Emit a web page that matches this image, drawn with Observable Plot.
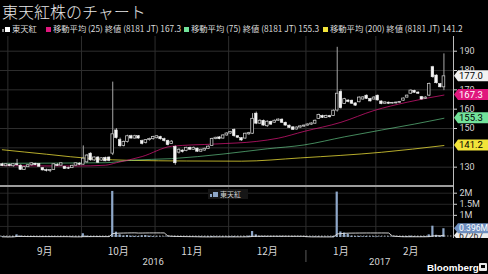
<!DOCTYPE html>
<html><head><meta charset="utf-8">
<script src="https://cdn.jsdelivr.net/npm/d3@7"></script>
<script src="https://cdn.jsdelivr.net/npm/@observablehq/plot@0.6"></script>
<style>
html,body{margin:0;padding:0;background:#000;}
#root{position:relative;width:488px;height:274px;overflow:hidden;background:#000;font-family:Roboto,"Noto Sans",sans-serif;color:#ccc;}
.abs{position:absolute;}
#title{left:2px;top:0px;font-family:"Noto Sans CJK JP";font-weight:300;font-size:16px;color:#e6e6e6;line-height:22px;white-space:nowrap;}
.leg{top:23px;font-family:"Noto Sans CJK JP";font-size:8.3px;line-height:10px;color:#dadada;white-space:nowrap;}
.sw{display:inline-block;width:5px;height:5px;margin-right:2px;vertical-align:0px;}
#sep{left:0;top:185px;width:453px;height:1.5px;background:#9c9c9c;z-index:5;}
#vleg{left:208px;top:189px;width:40px;height:10px;background:#161616;font-family:"Noto Sans CJK JP";font-size:7px;line-height:10px;color:#cfcfcf;white-space:nowrap;z-index:4;}
#logo{left:427px;top:262px;font-family:"Liberation Sans",Arial,sans-serif;font-weight:700;font-size:9.8px;color:#fff;line-height:12px;white-space:nowrap;}
#icon{left:479px;top:263px;width:8px;height:8px;background:#e8e8e8;border-radius:1px;}
#icon::after{content:"";position:absolute;left:2px;top:2px;width:4px;height:3px;background:#000;}
</style></head><body><div id="root">
<div id="title" class="abs">東天紅株のチャート</div>
<div id="p1" class="abs" style="left:0;top:36px;"></div>
<div id="p2" class="abs" style="left:0;top:186px;height:52px;overflow:hidden;"></div>
<div id="p3" class="abs" style="left:0;top:238px;"></div>
<div id="sep" class="abs"></div>
<div id="logo" class="abs">Bloomberg</div>
<div id="icon" class="abs"></div>
</div>
<script>
// ---- data ----
const tradeStart = "2016-08-30", tradeEnd = "2017-02-27";
const holidays = ["2016-09-19","2016-09-22","2016-10-10","2016-11-03","2016-11-23","2016-12-23","2017-01-02","2017-01-03","2017-01-09"];
const open = [
131.5,130.5,131.3,130.5,131.5,130.8,128.6,130,131,131.8,
131.6,129.5,128.5,128,128.5,131.2,130.8,130.2,129.5,129.5,
130.8,131.8,131.3,132.5,137,133.5,135,133.4,134.8,135,
137,149,144,141,143,146,144.8,146,143.5,142.5,
144,144.5,145,145.6,144.5,143.6,142,140.5,137.5,138.6,
138.4,140,139,139.6,138,138.6,139.5,141,144.6,145.4,
144.8,146.4,147.4,149.3,146,145,144.8,147,147.3,157.7,
152.5,154,151.2,153.5,153,154,154.6,153,151.5,150.6,
149.5,150.5,151,151.5,152,152.5,155,156.5,155.5,156.4,
156.5,159.3,169,162.7,164.5,164.4,163,163.6,165,167,
165.3,165,167,164,162.8,163.4,162.9,163,163.3,164.4,
166,168,169.5,168.6,166.3,165.4,167,181.7,177.4,173,
171.3];
const high = [
132,131.8,131.6,131.8,134,131.2,130.2,131.3,132.3,132,
131.9,129.8,129,128.8,131.8,131.8,132.3,130.5,130,131,
132.2,132.3,141,136.5,137.5,135.3,135.5,134.8,135.2,135.3,
174,150,145,143.5,146.5,146.5,146.5,146.3,144,144.3,
145,146,146.2,146,145,144,143.7,141,139.5,139,
140.3,140.4,140.4,139.9,139.3,139.8,141,145,145.5,145.8,
146.8,147.8,148.5,149.8,146.3,145.3,147.6,148,157.7,158.5,
154.5,154.4,154,153.8,154.4,155,155,153.3,151.8,151,
150.8,151.4,151.8,152.4,152.9,154.4,157.4,156.9,156.9,156.8,
159.6,192,170,165.6,164.8,164.7,163.3,166.4,166.5,167.4,
165.6,166.5,167.3,164.3,163.8,163.7,163.5,163.7,164,165.8,
167.3,170,169.8,169,166.6,166.4,173.5,182.2,177.8,173.3,
188.6];
const low = [
130.3,130.2,130.2,130,130.5,128.3,128.3,129.8,130.5,130.8,
130,128,127.5,127.2,128.3,130.4,130.6,128.8,128.8,129.3,
130.5,130.8,131,132,133,133,132,133,132.8,132.8,
136,144.5,140.3,140.5,142.5,144.5,144.5,144.5,141.5,142,
143.5,144,144.6,144,143,141,141.8,131,136.8,137.3,
138,138.6,138.7,137.6,137.7,138.3,139.2,140.8,144.2,144.2,
144.5,146,147,145.5,144.8,143.4,144.5,146.5,147,152,
152.2,151.2,150.6,151.6,152.7,153.7,152.6,151.2,150,149,
149.2,150.2,150.6,151.2,151.7,152.2,154.7,155.2,155.2,155.4,
156.2,158.5,160,162.4,163.3,162.5,161.5,163.3,164.7,165,
163.7,164.7,164.2,162.3,162.5,162.4,162.6,162.7,163,164.1,
165.7,167.7,168.2,167.6,164.7,165.1,166.5,176,173,171,
169.6];
const close = [
130.5,131.5,130.5,131.5,131,128.6,130,131,132,131,
130.2,128.3,128,128.5,131.5,130.6,132,129,129.2,130.7,
132,131.2,134.4,136,133.5,135,132.3,134.6,133,133.2,
147,145,140.8,143,146,144.8,146,144.8,142,144,
144.6,145.6,146,144.4,143.5,141.4,143.2,132,139,137.8,
140,139,140,138,139,139.5,140.6,144.6,145.2,144.5,
146.4,147.4,148.2,146,145.2,143.8,147.3,147.6,155,152.5,
154,151.5,153.5,152,154,154.6,152.9,151.5,150.3,149.3,
150.5,151.1,151.5,152.1,152.6,154,157,155.5,156.5,155.8,
159.2,168,160.5,165.2,163.7,162.8,161.8,166,166.1,165.3,
164,166,164.5,162.6,163.5,162.8,163.2,163.4,163.7,165.5,
167,169.6,168.5,168,165,166,173,176.5,173.4,171.3,
177];
const volK = [
30,25,20,35,120,60,30,25,40,30,
20,45,35,40,30,20,25,20,15,30,
20,25,170,60,45,30,40,25,30,35,
2080,240,120,70,90,60,50,40,80,90,
60,40,30,25,20,25,20,40,30,25,
20,20,25,20,30,25,35,45,30,25,
30,25,30,40,25,20,30,60,270,120,
50,40,35,30,25,30,35,25,20,25,
20,25,20,25,20,30,35,25,20,25,
50,2050,250,200,150,60,40,50,35,40,
30,35,30,25,20,25,20,25,30,40,
45,60,35,30,40,35,120,510,100,60,
396];
const ma25Day = [0,20,28,31,38,46,58,69,75,82,92,101,110,120];
const ma25    = [130.8,130.6,131,132.3,135.5,140.8,142,143.3,145,148.5,153.2,159.3,163.6,167.3];
const ma75Day = [0,28,35,46,60,72,82,93,103,112,120];
const ma75    = [132,132.3,133.6,134.4,136.8,139.5,141.5,145.7,149.2,152.3,155.3];
const ma200Day = [0,12,25,35,50,65,81,103,120];
const ma200    = [139,136.7,134.3,133.5,133.2,133.1,134.8,137.7,141.2];
const priceGrid = [130,140,150,160,170,180,190];
const priceTickLabels = [130,150,160,170,180,190];   // 140 lies under the 200-day tag
const volGrid = [500000,1000000,1500000,2000000];
const volTickLabels = [1000000,1500000,2000000];     // 0.5M lies under the volume tag
const monthLabels = ["9月","10月","11月","12月","1月","2月"];
const yearLabels = ["2016","2017"];
const volAvg = 67267;
const ticker = "8181 JT";
const name = "東天紅";

// ---- derived ----
const fmt = d3.utcFormat("%Y-%m-%d");
const days = d3.utcDays(new Date(tradeStart), d3.utcDay.offset(new Date(tradeEnd), 1))
  .filter(d => d.getUTCDay() % 6 !== 0 && !holidays.includes(fmt(d)));
const N = open.length;
const candles = open.map((o, i) => ({i, date: days[i], o, h: high[i], l: low[i], c: close[i]}));
const up = candles.filter(d => d.c >= d.o), down = candles.filter(d => d.c < d.o);
const vols = volK.map((v, i) => ({i, v: v * 1000}));
const xDomain = [-0.5, N - 0.5 + 2.1];
const bounds = [];
for (let i = 1; i < N; i++) if (days[i].getUTCMonth() !== days[i-1].getUTCMonth()) bounds.push(i - 0.5);
const yearBound = bounds.find(b => days[b + 0.5].getUTCFullYear() !== days[b - 0.5].getUTCFullYear());
const monthMarks = monthLabels.map((label, k) => ({label, x: (bounds[k] + (k + 1 < bounds.length ? bounds[k+1] : N - 0.5)) / 2}));
const yearMarks = [{label: yearLabels[0], x: (xDomain[0] + yearBound) / 2}, {label: yearLabels[1], x: (yearBound + xDomain[1]) / 2}];
const line = (idx, vals) => idx.map((i, k) => ({i, v: vals[k]}));

const C25 = "#e0177d", C75 = "#72e39a", C200 = "#f2e43a";
const baseStyle = {background: "transparent", color: "#d4d4d4", fontFamily: "Roboto, 'Liberation Sans', sans-serif", fontSize: "9px"};

// legend
const root = document.getElementById("root");
const legItems = [
  {x: 2, color: "#ffffff", text: name, pre: true},
  {x: 46, color: C25, text: `移動平均 (25) 終値 (${ticker}) ${ma25[ma25.length-1].toFixed(1)}`},
  {x: 184, color: C75, text: `移動平均 (75) 終値 (${ticker}) ${ma75[ma75.length-1].toFixed(1)}`},
  {x: 323, color: C200, text: `移動平均 (200) 終値 (${ticker}) ${ma200[ma200.length-1].toFixed(1)}`}
];
for (const it of legItems) {
  const s = document.createElement("div");
  s.className = "abs leg";
  s.style.left = it.x + "px";
  s.innerHTML = (it.pre ? `<span class="sw" style="width:2px;height:3px;background:#888;margin-right:1px"></span>` : "") +
    `<span class="sw" style="background:${it.color}"></span>` + it.text;
  root.appendChild(s);
}
const vl = document.createElement("div");
vl.id = "vleg"; vl.className = "abs";
vl.innerHTML = `<span class="sw" style="width:2px;height:3px;background:#8ea7c8;margin-left:2px;margin-right:1px"></span><span class="sw" style="background:#8ea7c8"></span>${name}`;
root.appendChild(vl);

function tag(svg, y, text, bg, fg, h, fs) {
  const x0 = 454;
  const g = d3.select(svg).append("g");
  g.append("path").attr("d", `M${x0},${y} L${x0+4},${y-h/2} H488 V${y+h/2} H${x0+4} Z`).attr("fill", bg);
  g.append("text").attr("x", x0 + 5).attr("y", y).attr("dy", "0.36em").attr("fill", fg)
    .attr("text-anchor", "start")
    .attr("font-size", fs).attr("font-family", "Roboto, 'Liberation Sans', sans-serif").text(text);
}

// ---- price panel ----
const p1 = Plot.plot({
  width: 488, height: 150, marginTop: 0, marginBottom: 0, marginLeft: 0, marginRight: 35,
  style: baseStyle,
  x: {domain: xDomain, axis: null},
  y: {domain: [120, 197.6], axis: "right", ticks: priceTickLabels, tickSize: 3, tickPadding: 3, label: null},
  marks: [
    Plot.ruleY(priceGrid, {stroke: "#2e2e2e"}),
    Plot.ruleX(bounds, {stroke: "#2e2e2e"}),
    Plot.line(line(ma200Day, ma200), {x: "i", y: "v", stroke: C200, strokeWidth: 1, strokeOpacity: 0.75, curve: "monotone-x"}),
    Plot.line(line(ma75Day, ma75), {x: "i", y: "v", stroke: C75, strokeWidth: 1, strokeOpacity: 0.6, curve: "monotone-x"}),
    Plot.line(line(ma25Day, ma25), {x: "i", y: "v", stroke: C25, strokeWidth: 1, strokeOpacity: 0.7, curve: "monotone-x"}),
    Plot.ruleX(candles, {x: "i", y1: "l", y2: "h", stroke: "#a8a8a8", strokeWidth: 1}),
    Plot.rect(down, {x1: d => d.i - 0.36, x2: d => d.i + 0.36, y1: "c", y2: "o", fill: "#f4f4f4", stroke: "#f4f4f4", strokeWidth: 0.5}),
    Plot.rect(up, {x1: d => d.i - 0.36, x2: d => d.i + 0.36, y1: "o", y2: "c", fill: "#000", stroke: "#c4c4c4", strokeWidth: 0.8}),
    Plot.ruleX([xDomain[1]], {stroke: "#bdbdbd"})
  ]
});
document.getElementById("p1").appendChild(p1);
const ys = p1.scale("y");
tag(p1, ys.apply(ma200[ma200.length-1]), ma200[ma200.length-1].toFixed(1), C200, "#000", 11, 9.5);
tag(p1, ys.apply(ma75[ma75.length-1]), ma75[ma75.length-1].toFixed(1), C75, "#000", 11, 9.5);
tag(p1, ys.apply(ma25[ma25.length-1]), ma25[ma25.length-1].toFixed(1), C25, "#fff", 11, 9.5);
tag(p1, ys.apply(close[N-1]), close[N-1].toFixed(1), "#f2f2f2", "#000", 11, 9.5);

// ---- volume panel ----
const p2 = Plot.plot({
  width: 488, height: 52, marginTop: 0, marginBottom: 0, marginLeft: 0, marginRight: 35,
  style: baseStyle,
  x: {domain: xDomain, axis: null},
  y: {domain: [-45000, 2302000], axis: "right", ticks: volTickLabels, tickSize: 3, tickPadding: 3, tickFormat: d => d / 1e6 + "M", label: null},
  marks: [
    Plot.ruleY(volGrid, {stroke: "#262626"}),
    Plot.ruleX(bounds, {stroke: "#2e2e2e"}),
    Plot.rectY(vols, {x1: d => d.i - 0.3, x2: d => d.i + 0.3, y: "v", fill: "#8ea7c8"}),
    Plot.ruleY([volAvg], {x1: xDomain[0], x2: xDomain[1], stroke: "#bbbbbb", strokeWidth: 0.8, strokeDasharray: "1.5,1.5"}),
    Plot.lineY(vols, Plot.windowY({k: 15, anchor: "end"}, {x: "i", y: "v", stroke: "#e4e4e4", strokeWidth: 0.9})),
    Plot.ruleX([xDomain[1]], {stroke: "#bdbdbd"})
  ]
});
document.getElementById("p2").appendChild(p2);
const vs = p2.scale("y");
tag(p2, vs.apply(volAvg), String(volAvg), "#ececec", "#222", 10, 8.6);
tag(p2, vs.apply(vols[N-1].v), (vols[N-1].v / 1e6).toFixed(3) + "M", "#6f8fbf", "#fff", 10, 8.6);

// ---- time axis ----
const p3 = Plot.plot({
  width: 488, height: 30, marginTop: 0, marginBottom: 0, marginLeft: 0, marginRight: 35,
  style: baseStyle,
  x: {domain: xDomain, axis: null},
  marks: [
    Plot.text(monthMarks, {x: "x", text: "label", frameAnchor: "top", dy: 9.7, fill: "#d8d8d8", fontSize: 10, fontFamily: "'Noto Sans CJK JP'"}),
    Plot.text(yearMarks, {x: "x", text: "label", frameAnchor: "top", dy: 19.7, fill: "#d8d8d8", fontSize: 9.5}),
    Plot.ruleX([yearBound], {stroke: "#5a5a5a", insetTop: 12, insetBottom: 6})
  ]
});
document.getElementById("p3").appendChild(p3);
</script>
</body></html>
